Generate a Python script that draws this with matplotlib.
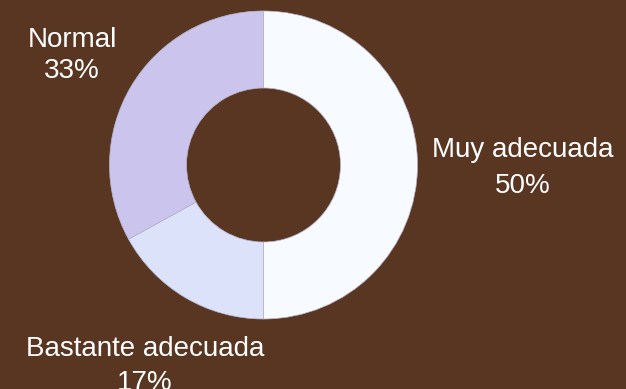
import matplotlib.pyplot as plt

categories = ['Muy adecuada', 'Bastante adecuada', 'Normal']
values = [50, 17, 33]
colors = ['#f7fafe', '#dce2fa', '#cbc4ec']

bg = '#593622'

fig = plt.figure(figsize=(6.26, 3.89), dpi=100, facecolor=bg)
plt.rcParams['font.family'] = ['Liberation Sans', 'DejaVu Sans']

# donut centred at (263.5, 165) px, outer radius 154 px
W, H = 626, 389
ax = fig.add_axes([(263.5 - 154) / W, (H - 165 - 154) / H, 308 / W, 308 / H])
ax.set_facecolor(bg)
ax.pie(values, colors=colors, startangle=90, counterclock=False, radius=1,
       wedgeprops=dict(width=0.5, edgecolor='#b8b4cc', linewidth=0.5))
ax.set_xlim(-1, 1)
ax.set_ylim(-1, 1)
ax.set_aspect('equal')
ax.axis('off')

# label positions in pixels (x centre, first baseline, second baseline)
label_pos = [(523, 157, 193), (145, 356, 390), (72, 47, 78)]
for name, v, (x, y1, y2) in zip(categories, values, label_pos):
    fig.text(x / W, 1 - y1 / H, name, color='white', fontsize=20,
             ha='center', va='baseline')
    fig.text(x / W, 1 - y2 / H, '%d%%' % v, color='white', fontsize=20,
             ha='center', va='baseline')

fig.savefig('out.png', dpi=100, facecolor=bg)
